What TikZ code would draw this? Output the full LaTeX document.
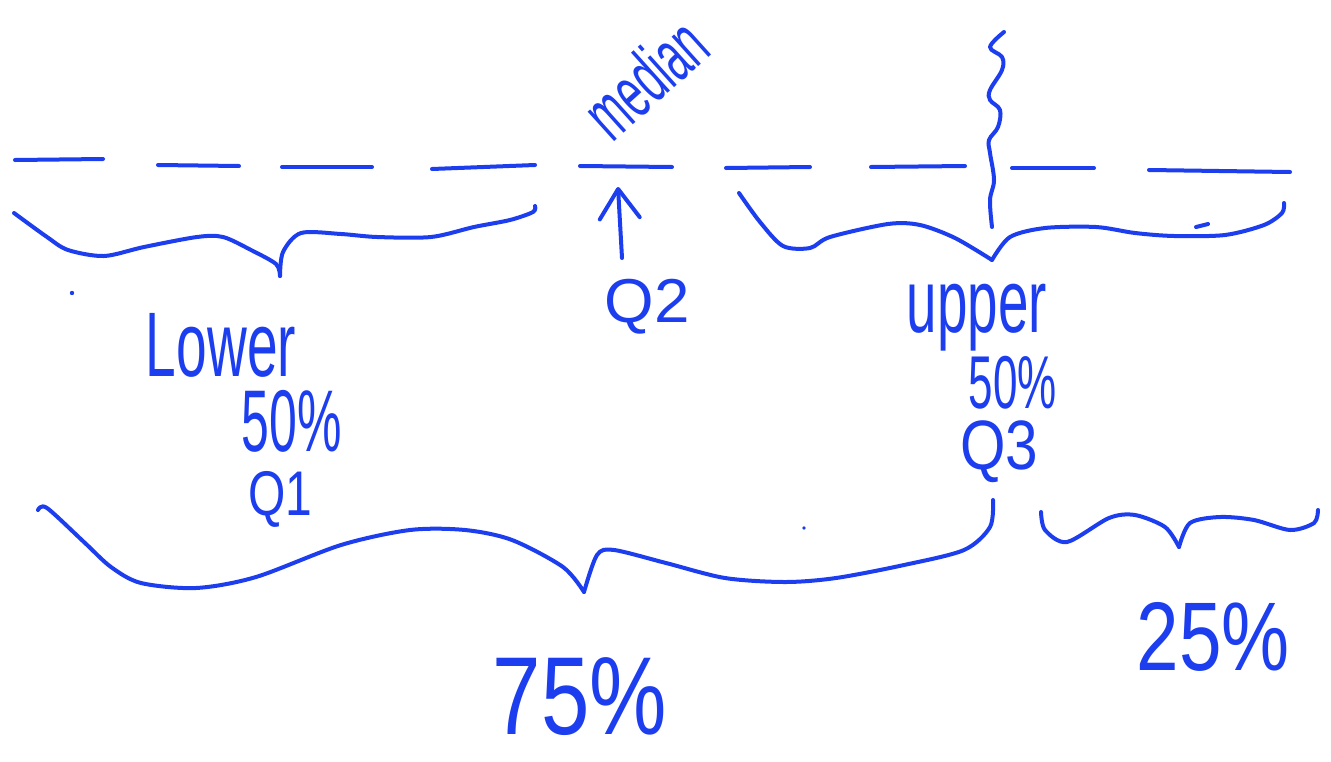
\documentclass[tikz,border=0pt]{standalone}
\usepackage{fontspec}
\setmainfont{Liberation Sans}
\usepackage{graphicx}
\usetikzlibrary{arrows.meta}
\definecolor{ink}{RGB}{28,62,238}
\newlength\pxu
\setlength\pxu{0.75pt}
% text squeezed into a box of given width and total height (in pixel units)
\newcommand\handtext[3]{\resizebox*{#1\pxu}{#2\pxu}{#3}}

\begin{document}
\begin{tikzpicture}[x=0.75pt,y=-0.75pt,
  pen/.style={draw=ink,line width=3pt,line cap=round,line join=round},
  handlabel/.style={text=ink,inner sep=0pt,outer sep=0pt}]
\useasboundingbox (0,0) rectangle (1331,761);

% number line, drawn as separate dashes
\foreach \a/\b/\ya/\yb in {15/103/160/159, 158/239/165/166, 282/372/167/167,
    432/535/169/165, 580/672/166/167, 726/810/168/167, 871/965/167/166,
    1012/1094/168/168, 1149/1290/170/172}
  \draw[pen] (\a,\ya) -- (\b,\yb);

% wavy cut marking the third quartile
\draw[pen] plot[smooth,tension=0.6] coordinates {(1004,32) (990,47) (1002,57)
  (1002,70) (990,90) (990,100) (1000,110) (998,127) (989,140) (990,153)
  (994,180) (990,200) (992,227)};

% brace under the lower half
\draw[pen] plot[smooth,tension=0.5] coordinates {(14,213) (47,237) (68,250)
  (104,256) (144,247) (197,237) (223,237) (251,250) (276,264) (280,276)};
\draw[pen] plot[smooth,tension=0.5] coordinates {(280,276) (283,252) (301,233)
  (341,234) (377,237) (431,237) (474,227) (510,220) (533,212) (535,206)};

% brace under the upper half
\draw[pen] plot[smooth,tension=0.5] coordinates {(739,193) (760,222) (783,246)
  (810,248) (830,237) (888,224) (920,225) (955,238) (992,260)};
\draw[pen] plot[smooth,tension=0.5] coordinates {(992,260) (1010,237)
  (1045,228) (1096,227) (1135,233) (1174,236) (1225,235) (1264,225)
  (1282,213) (1284,203)};
\draw[pen] (1196,227) -- (1208,224);

% stray dots
\fill[ink] (72,293) circle (2.2);
\fill[ink] (804,528) circle (1.8);

% brace over the lowest 75 percent
\draw[pen] plot[smooth,tension=0.5] coordinates {(38,510) (47,508) (85,543)
  (111,567) (141,583) (196,588) (256,577) (341,545) (410,530) (465,530)
  (512,540) (563,567) (584,592)};
\draw[pen] plot[smooth,tension=0.5] coordinates {(584,592) (597,555)
  (614,550) (666,563) (725,578) (785,582) (836,578) (904,565) (964,550)
  (990,527) (993,500)};

% brace over the top 25 percent
\draw[pen] plot[smooth,tension=0.5] coordinates {(1041,512) (1045,530)
  (1067,542) (1109,518) (1135,515) (1165,527) (1179,547)};
\draw[pen] plot[smooth,tension=0.5] coordinates {(1179,547) (1190,523)
  (1220,517) (1254,520) (1290,530) (1314,523) (1318,510)};

% labels
\node[handlabel,rotate=42] (median) at (645,78) {\handtext{135}{55}{median}};
\node[handlabel] (q2) at (647,307) {\handtext{85}{55}{Q2}};
\node[handlabel] (lower) at (221,345) {\handtext{150}{64}{Lower}};
\node[handlabel] (lowpct) at (292,421) {\handtext{100}{62}{50\%}};
\node[handlabel] (q1) at (280,499) {\handtext{64}{56}{Q1}};
\node[handlabel] (upper) at (977,318) {\handtext{140}{67}{upper}};
\node[handlabel] (uppct) at (1013,383) {\handtext{88}{53}{50\%}};
\node[handlabel] (q3) at (999,452) {\handtext{78}{62}{Q3}};
\node[handlabel] (p75) at (580,697) {\handtext{174}{78}{75\%}};
\node[handlabel] (p25) at (1213,637) {\handtext{153}{69}{25\%}};

% arrow from Q2 up to the median
\coordinate (arrowtail) at (622,258);
\coordinate (arrowtip) at (618,187);
\draw[pen,-{Straight Barb[length=22pt,width=30pt,line cap=round,line join=round]}]
  (arrowtail) -- (arrowtip);
\end{tikzpicture}
\end{document}
